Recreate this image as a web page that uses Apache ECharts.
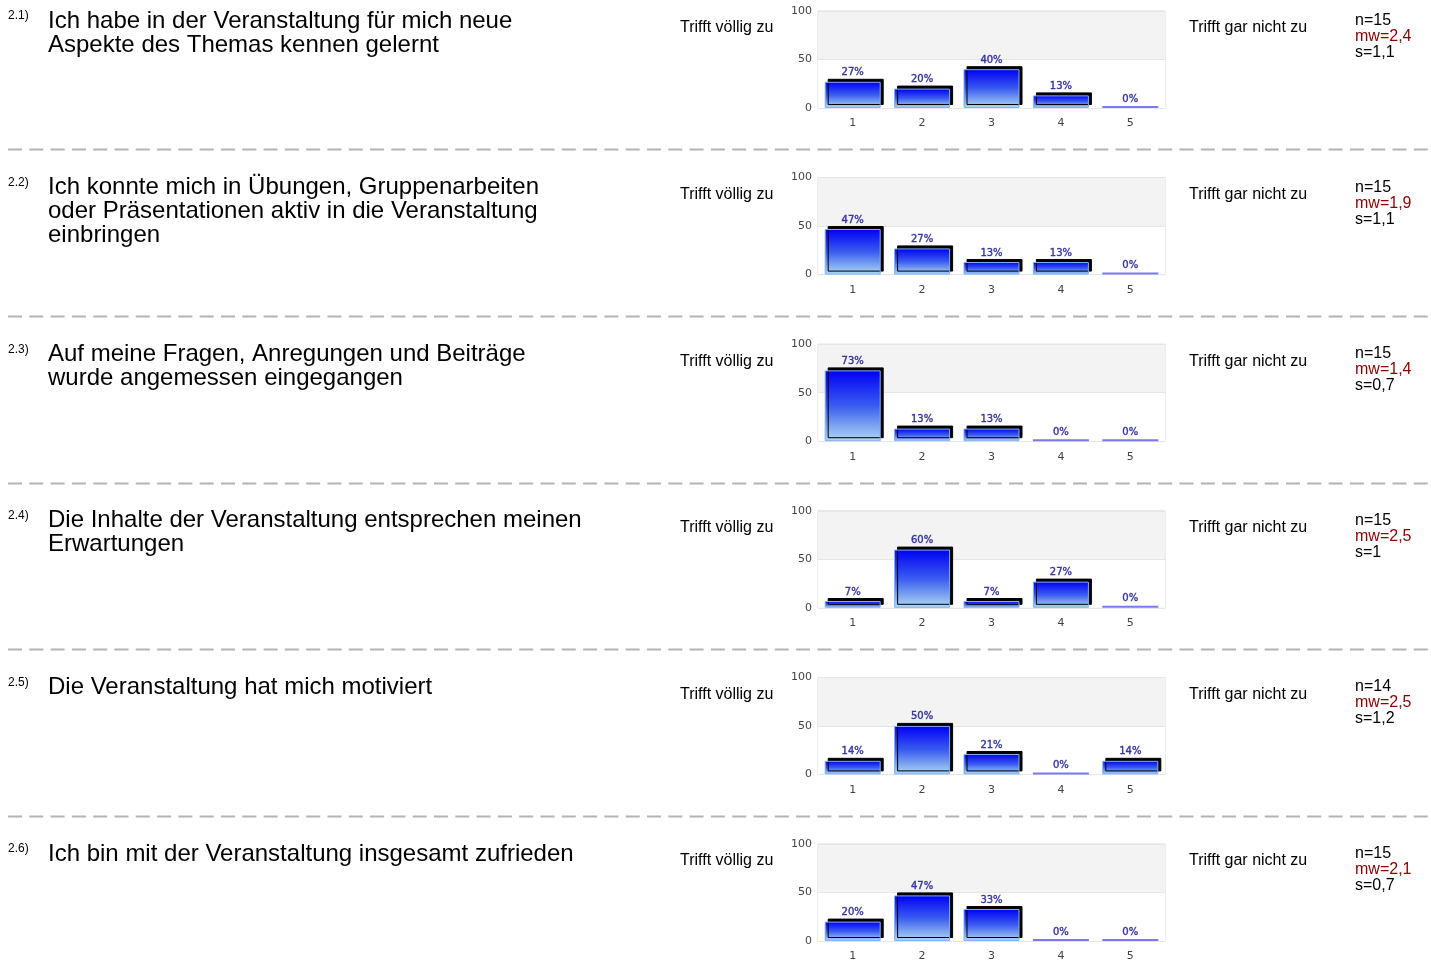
<!DOCTYPE html>
<html>
<head>
<meta charset="utf-8">
<style>
html,body{margin:0;padding:0;background:#fff;}
#main{width:1431px;height:964px;}
</style>
<script src="https://cdn.jsdelivr.net/npm/echarts@6/dist/echarts.min.js"></script>
</head>
<body>
<div id="main"></div>
<script>
const categories = ['1', '2', '3', '4', '5'];
const yTicks = [0, 50, 100];
const itemNumbers = ['2.1)', '2.2)', '2.3)', '2.4)', '2.5)', '2.6)'];
const questions = [
  'Ich habe in der Veranstaltung für mich neue\nAspekte des Themas kennen gelernt',
  'Ich konnte mich in Übungen, Gruppenarbeiten\noder Präsentationen aktiv in die Veranstaltung\neinbringen',
  'Auf meine Fragen, Anregungen und Beiträge\nwurde angemessen eingegangen',
  'Die Inhalte der Veranstaltung entsprechen meinen\nErwartungen',
  'Die Veranstaltung hat mich motiviert',
  'Ich bin mit der Veranstaltung insgesamt zufrieden'
];
const values21 = [27, 20, 40, 13, 0];
const values22 = [47, 27, 13, 13, 0];
const values23 = [73, 13, 13, 0, 0];
const values24 = [7, 60, 7, 27, 0];
const values25 = [14, 50, 21, 0, 14];
const values26 = [20, 47, 33, 0, 0];
const nValues = ['15', '15', '15', '15', '14', '15'];
const mwValues = ['2,4', '1,9', '1,4', '2,5', '2,5', '2,1'];
const sValues = ['1,1', '1,1', '0,7', '1', '1,2', '0,7'];
const leftLabel = 'Trifft völlig zu';
const rightLabel = 'Trifft gar nicht zu';

const allValues = [values21, values22, values23, values24, values25, values26];

const chart = echarts.init(document.getElementById('main'), null, {renderer: 'canvas'});

const BLOCK = 166.6;
const grids = [], xAxes = [], yAxes = [], series = [], graphics = [];
const FONT = 'Liberation Sans, Arial, sans-serif';

const barGradient = {
  type: 'linear', x: 0, y: 0, x2: 0, y2: 1,
  colorStops: [
    {offset: 0, color: '#0000f5'},
    {offset: 0.5, color: '#3a5cf0'},
    {offset: 1, color: '#b0daf2'}
  ]
};

allValues.forEach((vals, k) => {
  const off = k * BLOCK;
  grids.push({
    left: 818, top: 11 + off, width: 347, height: 97,
    show: true, borderColor: '#dcdcdc', borderWidth: 1, backgroundColor: 'transparent',
    containLabel: false
  });
  xAxes.push({
    type: 'category', gridIndex: k, data: categories,
    axisLine: {show: false}, axisTick: {show: false},
    axisLabel: {color: '#444', fontFamily: 'DejaVu Sans', fontSize: 11, margin: 10}
  });
  yAxes.push({
    type: 'value', gridIndex: k, min: 0, max: 100, interval: 50,
    axisLine: {show: false}, axisTick: {show: false},
    axisLabel: {color: '#444', fontFamily: 'DejaVu Sans', fontSize: 11, margin: 6,
      formatter: v => yTicks.includes(v) ? String(v) : ''},
    splitLine: {show: true, lineStyle: {color: '#e6e6e6', width: 1}},
    splitArea: {show: true, areaStyle: {color: ['#ffffff', '#f3f3f3']}}
  });
  series.push({
    type: 'bar', xAxisIndex: k, yAxisIndex: k,
    barWidth: 56, barMinHeight: 2,
    animation: false,
    data: vals.map(v => v === 0 ? {
      value: v,
      itemStyle: {color: '#7a7aee', borderWidth: 0, shadowColor: 'transparent'},
      label: {distance: 2}
    } : {value: v}),
    itemStyle: {
      color: barGradient, borderColor: '#7fb0fa', borderWidth: 1,
      shadowColor: '#000', shadowBlur: 0, shadowOffsetX: 3, shadowOffsetY: -3
    },
    label: {
      show: true, position: 'top', distance: 4,
      formatter: '{c}%', color: '#3535a5', fontFamily: 'DejaVu Sans', fontSize: 10,
      textBorderColor: '#3535a5', textBorderWidth: 0.4
    }
  });

  graphics.push({
    type: 'text', x: 8, y: 10 + off,
    style: {text: itemNumbers[k], font: '12px ' + FONT, fill: '#000', verticalAlign: 'top'}
  });
  graphics.push({
    type: 'text', x: 48, y: 9 + off,
    style: {text: questions[k], font: '24px ' + FONT, fill: '#000', lineHeight: 24, verticalAlign: 'top'}
  });
  graphics.push({
    type: 'text', x: 680, y: 28 + off,
    style: {text: leftLabel, font: '16px ' + FONT, fill: '#000', verticalAlign: 'middle'}
  });
  graphics.push({
    type: 'text', x: 1189, y: 28 + off,
    style: {text: rightLabel, font: '16px ' + FONT, fill: '#000', verticalAlign: 'middle'}
  });
  graphics.push({
    type: 'text', x: 1355, y: 20.5 + off,
    style: {text: 'n=' + nValues[k], font: '16px ' + FONT, fill: '#000', verticalAlign: 'middle'}
  });
  graphics.push({
    type: 'text', x: 1355, y: 36.5 + off,
    style: {text: 'mw=' + mwValues[k], font: '16px ' + FONT, fill: '#8b0000', verticalAlign: 'middle'}
  });
  graphics.push({
    type: 'text', x: 1355, y: 52.5 + off,
    style: {text: 's=' + sValues[k], font: '16px ' + FONT, fill: '#000', verticalAlign: 'middle'}
  });
  if (k < allValues.length - 1) {
    const yl = Math.round(149 + k * 166.75) + 0.5;
    graphics.push({
      type: 'line', silent: true,
      shape: {x1: 8, y1: yl, x2: 1431, y2: yl},
      style: {stroke: '#b4b4b4', lineWidth: 2, lineDash: [14, 7.3]}
    });
  }
});

chart.setOption({
  animation: false,
  backgroundColor: '#fff',
  grid: grids, xAxis: xAxes, yAxis: yAxes, series: series,
  graphic: graphics
});
</script>
</body>
</html>
